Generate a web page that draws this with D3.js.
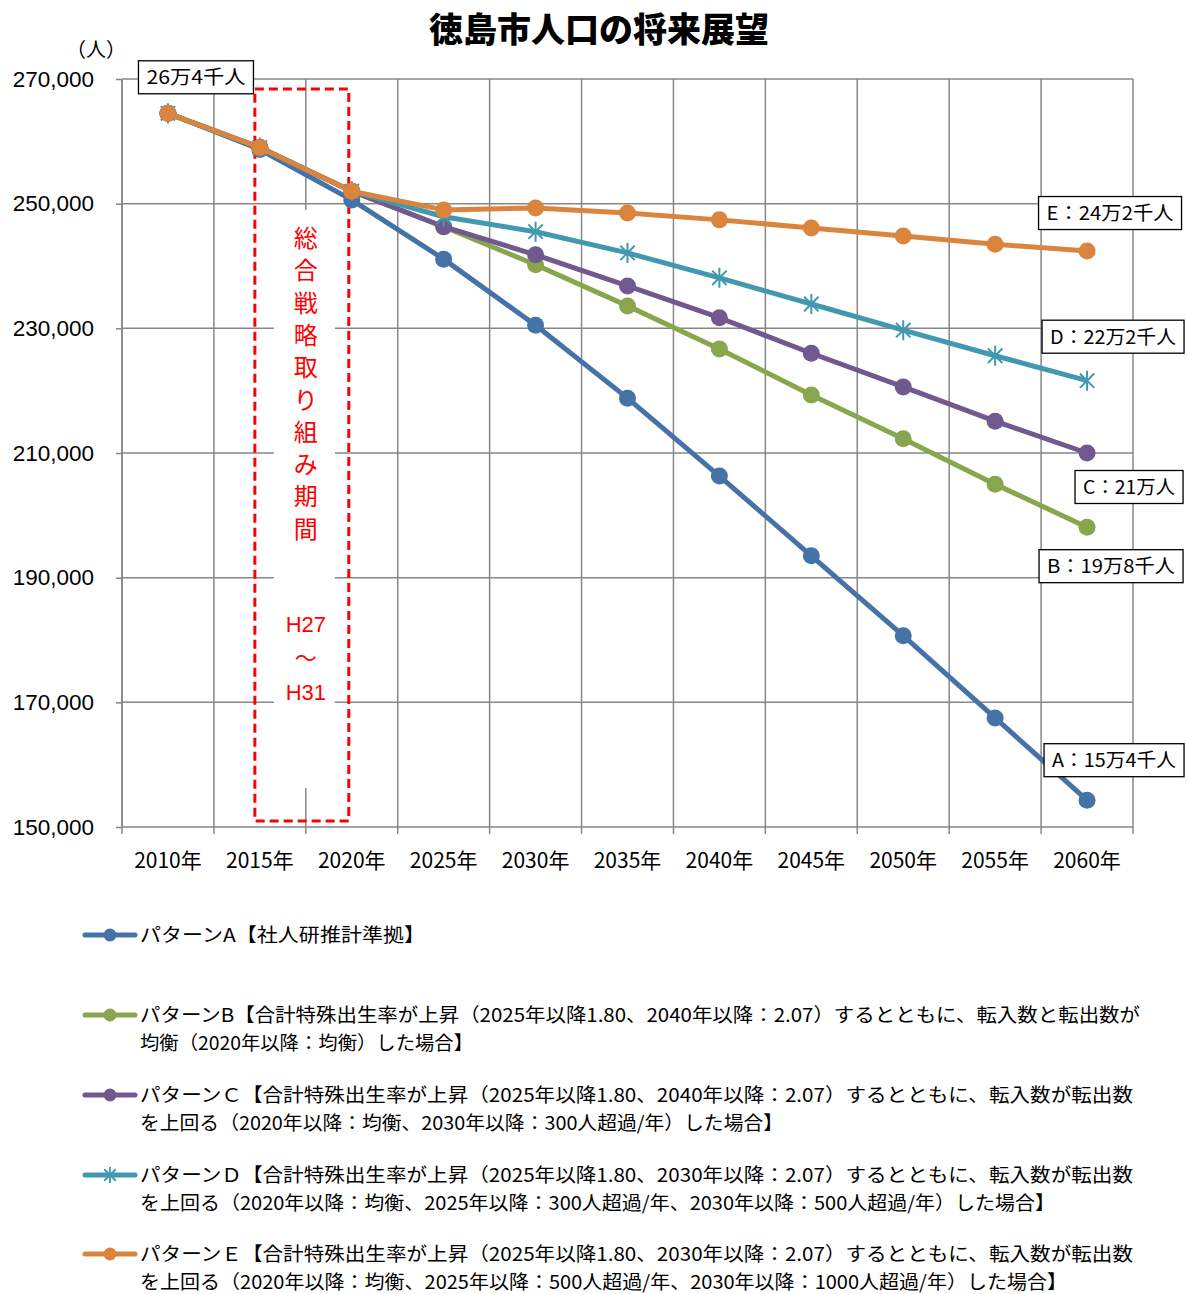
<!DOCTYPE html>
<html>
<head>
<meta charset="utf-8">
<script src="https://cdn.jsdelivr.net/npm/d3@7"></script>
<style>
  body { margin: 0; background: #fff; }
  text { font-family: "Noto Sans CJK JP", "Noto Sans", sans-serif; }
</style>
</head>
<body>
<div id="chart"></div>
<script>
// data
var years = ["2010年", "2015年", "2020年", "2025年", "2030年", "2035年", "2040年", "2045年", "2050年", "2055年", "2060年"];
var patternA = [264500, 258700, 250600, 241100, 230500, 218800, 206300, 193500, 180700, 167500, 154300];
var patternB = [264500, 259000, 252000, 246300, 240200, 233600, 226700, 219300, 212300, 205000, 198100];
var patternC = [264500, 259000, 252000, 246300, 241800, 236800, 231700, 226000, 220600, 215100, 210000];
var patternD = [264500, 259000, 252000, 247900, 245500, 242100, 238100, 233900, 229700, 225600, 221600];
var patternE = [264500, 259000, 252000, 249000, 249300, 248500, 247400, 246100, 244800, 243500, 242400];
var yTicks = [150000, 170000, 190000, 210000, 230000, 250000, 270000];
var endLabels = ["A：15万4千人", "B：19万8千人", "C：21万人", "D：22万2千人", "E：24万2千人"];
var startLabel = "26万4千人";
var legendLines = [
  ["パターンA【社人研推計準拠】"],
  ["パターンB【合計特殊出生率が上昇（2025年以降1.80、2040年以降：2.07）するとともに、転入数と転出数が",
   "均衡（2020年以降：均衡）した場合】"],
  ["パターンＣ【合計特殊出生率が上昇（2025年以降1.80、2040年以降：2.07）するとともに、転入数が転出数",
   "を上回る（2020年以降：均衡、2030年以降：300人超過/年）した場合】"],
  ["パターンＤ【合計特殊出生率が上昇（2025年以降1.80、2030年以降：2.07）するとともに、転入数が転出数",
   "を上回る（2020年以降：均衡、2025年以降：300人超過/年、2030年以降：500人超過/年）した場合】"],
  ["パターンＥ【合計特殊出生率が上昇（2025年以降1.80、2030年以降：2.07）するとともに、転入数が転出数",
   "を上回る（2020年以降：均衡、2025年以降：500人超過/年、2030年以降：1000人超過/年）した場合】"]
];

var series = [
  { key: "A", values: patternA, color: "#4572a7", marker: "circle" },
  { key: "B", values: patternB, color: "#89a54e", marker: "circle" },
  { key: "C", values: patternC, color: "#71588f", marker: "circle" },
  { key: "D", values: patternD, color: "#4198af", marker: "star" },
  { key: "E", values: patternE, color: "#db843d", marker: "circle" }
];

// label box placement (box width, offset from last point)
var labelBox = [
  { w: 140, dx: 27, dy: -40 },
  { w: 144, dx: 24, dy: 39 },
  { w: 108, dx: 42, dy: 34 },
  { w: 142, dx: 26, dy: -44 },
  { w: 143, dx: 23, dy: -38 }
];
var legendWidths = [[285], [1000, 333], [993, 643], [993, 915], [993, 927]];

var svgWidth = 1187;
var svgHeight = 1294;
var margin = { top: 79, right: 54, bottom: 467, left: 122 };
var width = svgWidth - margin.left - margin.right;
var height = svgHeight - margin.top - margin.bottom;

var svg = d3.select("#chart").append("svg")
  .attr("width", svgWidth)
  .attr("height", svgHeight);

// title
svg.append("text")
  .attr("x", 599).attr("y", 42)
  .attr("text-anchor", "middle")
  .attr("font-size", "34px")
  .attr("font-weight", "900")
  .text("徳島市人口の将来展望");

svg.append("text")
  .attr("x", 96).attr("y", 57)
  .attr("text-anchor", "middle")
  .attr("font-size", "20px")
  .text("（人）");

var g = svg.append("g").attr("transform", `translate(${margin.left}, ${margin.top})`);

var xBand = d3.scaleBand().domain(years).range([0, width]);
var x = d => xBand(d) + xBand.bandwidth() / 2;
var y = d3.scaleLinear().domain([150000, 270000]).range([height, 0]);

var gridColor = "#878787";

// y axis ticks and labels
var yAxis = d3.axisLeft(y).tickValues(yTicks).tickSize(6).tickFormat(d3.format(","));
var yg = g.append("g").call(yAxis);
yg.select(".domain").remove();
yg.selectAll("line").attr("stroke", gridColor).attr("stroke-width", 1.5);
yg.selectAll("text").attr("font-size", "22.5px").attr("fill", "#000").attr("x", -28)
  .style("font-family", "'Liberation Sans', Arial, sans-serif");

// horizontal gridlines
g.selectAll(".hgrid").data(yTicks).enter().append("line")
  .attr("x1", 0).attr("x2", width)
  .attr("y1", d => y(d)).attr("y2", d => y(d))
  .attr("stroke", gridColor).attr("stroke-width", 1.5);

// vertical gridlines at category edges
var edges = years.map(d => xBand(d)).concat([width]);
g.selectAll(".vgrid").data(edges).enter().append("line")
  .attr("x1", d => d).attr("x2", d => d)
  .attr("y1", 0).attr("y2", height + 7)
  .attr("stroke", gridColor).attr("stroke-width", 1.5);

// x axis labels
g.selectAll(".xlab").data(years).enter().append("text")
  .attr("x", d => x(d)).attr("y", height + 41)
  .attr("text-anchor", "middle")
  .attr("font-size", "21px")
  .text(d => d);

// strategy period box
var boxL = x("2015年") - 5, boxR = x("2020年") - 3;
g.append("rect")
  .attr("x", boxL + 19).attr("y", 131)
  .attr("width", 61).attr("height", 578)
  .attr("fill", "#fff");
g.append("rect")
  .attr("x", boxL).attr("y", 10)
  .attr("width", boxR - boxL).attr("height", height - 16)
  .attr("fill", "none")
  .attr("stroke", "#ff0000").attr("stroke-width", 3)
  .attr("stroke-dasharray", "9,5");

var vChars = "総合戦略取り組み期間".split("");
var cx = (boxL + boxR) / 2 + 4;
g.selectAll(".vch").data(vChars).enter().append("text")
  .attr("x", cx).attr("y", (d, i) => 168 + i * 32.3)
  .attr("text-anchor", "middle")
  .attr("font-size", "24px")
  .attr("fill", "#ff0000")
  .text(d => d);
["H27", "〜", "H31"].forEach((t, i) => {
  g.append("text")
    .attr("x", cx).attr("y", 553 + i * 34)
    .attr("text-anchor", "middle")
    .attr("font-size", "22px")
    .attr("fill", "#ff0000")
    .style("font-family", t === "〜" ? null : "'Liberation Sans', Arial, sans-serif")
    .text(t);
});

// y axis line
g.append("line").attr("x1", 0).attr("x2", 0).attr("y1", 0).attr("y2", height)
  .attr("stroke", gridColor).attr("stroke-width", 1.5);

// lines
var line = d3.line().x((d, i) => x(years[i])).y(d => y(d));

function starPath(r) {
  var a = r * 0.72;
  return `M0,${-r}L0,${r}M${-a},${-a}L${a},${a}M${-a},${a}L${a},${-a}`;
}

series.forEach(s => {
  g.append("path")
    .datum(s.values)
    .attr("d", line)
    .attr("fill", "none")
    .attr("stroke", s.color)
    .attr("stroke-width", 5)
    .attr("stroke-linejoin", "round");
  if (s.marker === "circle") {
    g.selectAll(null).data(s.values).enter().append("circle")
      .attr("cx", (d, i) => x(years[i]))
      .attr("cy", d => y(d))
      .attr("r", 8.5)
      .attr("fill", s.color);
  } else {
    g.selectAll(null).data(s.values).enter().append("path")
      .attr("transform", (d, i) => `translate(${x(years[i])},${y(d)})`)
      .attr("d", starPath(10))
      .attr("fill", "none")
      .attr("stroke", s.color)
      .attr("stroke-width", 2);
  }
});

// data labels
function boxLabel(cxp, cyp, w, txt) {
  var h = 33;
  g.append("rect")
    .attr("x", cxp - w / 2).attr("y", cyp - h / 2)
    .attr("width", w).attr("height", h)
    .attr("fill", "#fff").attr("stroke", "#000").attr("stroke-width", 1.3);
  g.append("text")
    .attr("x", cxp).attr("y", cyp + 7)
    .attr("text-anchor", "middle")
    .attr("font-size", "19px")
    .attr("textLength", w - 16)
    .attr("lengthAdjust", "spacingAndGlyphs")
    .text(txt);
}
var last = years[years.length - 1];
series.forEach((s, i) => {
  var b = labelBox[i];
  boxLabel(x(last) + b.dx, y(s.values[s.values.length - 1]) + b.dy, b.w, endLabels[i]);
});
boxLabel(x(years[0]) + 28, y(patternE[0]) - 36, 115, startLabel);

// legend
var legend = svg.append("g");
var legendY = [935, 1015, 1095, 1175, 1254];
series.forEach((s, i) => {
  var ly = legendY[i];
  legend.append("line")
    .attr("x1", 85).attr("x2", 135).attr("y1", ly).attr("y2", ly)
    .attr("stroke", s.color).attr("stroke-width", 5).attr("stroke-linecap", "round");
  if (s.marker === "circle") {
    legend.append("circle").attr("cx", 110).attr("cy", ly).attr("r", 6.5).attr("fill", s.color);
  } else {
    legend.append("path").attr("transform", `translate(110,${ly})`)
      .attr("d", starPath(8)).attr("stroke", s.color).attr("stroke-width", 1.8);
  }
  legendLines[i].forEach((t, j) => {
    legend.append("text")
      .attr("x", 140).attr("y", ly + 7 + j * 28)
      .attr("font-size", "19px")
      .attr("textLength", legendWidths[i][j])
      .attr("lengthAdjust", "spacingAndGlyphs")
      .text(t);
  });
});
</script>
</body>
</html>
